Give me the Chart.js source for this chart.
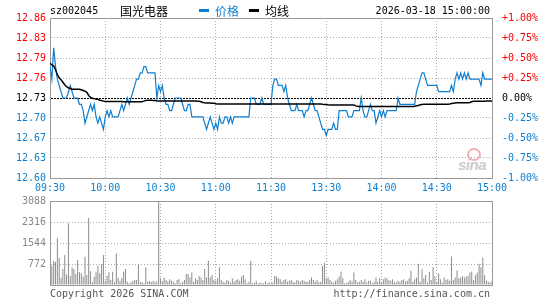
<!DOCTYPE html>
<html>
<head>
<meta charset="utf-8">
<script src="https://cdn.jsdelivr.net/npm/chart.js@4.4.1/dist/chart.umd.min.js"></script>
<style>
  body { margin: 0; background: #fff; }
  #wrap { position: relative; width: 545px; height: 300px; overflow: hidden;
          font-family: "DejaVu Sans Mono", monospace; font-size: 10px; color: #000; }
  canvas { position: absolute; left: 0; }
  #priceChart { top: 0; }
  #volChart { top: 190px; }
  .t { position: absolute; white-space: nowrap; line-height: 12px; }
  .cn { font-family: "Noto Sans CJK SC", sans-serif; font-size: 12px; line-height: 14px; }
  .dash { position: absolute; width: 10px; height: 3px; }
  #mark { position: absolute; left: 455px; top: 146px; width: 40px; height: 28px; }
  #mark .eye { position: absolute; left: 12px; top: 2px; width: 10px; height: 9px;
               border: 2px solid #f2b0b0; border-radius: 50%; }
  #mark .txt { position: absolute; left: 3px; top: 10px; font: italic bold 15px "Liberation Sans", sans-serif;
               color: #cccccc; letter-spacing: -0.5px; }
</style>
</head>
<body>
<div id="wrap">
  <div id="mark"><div class="eye"></div><div class="txt">sina</div></div>
  <canvas id="priceChart" width="545" height="200"></canvas>
  <canvas id="volChart" width="545" height="110"></canvas>

  <div class="t" style="left:50px; top:5px;">sz002045</div>
  <div class="t cn" style="left:120px; top:4px;">国光电器</div>
  <div class="dash" style="left:199px; top:9px; background:#0e7fd0;"></div>
  <div class="t cn" style="left:215px; top:4px; color:#0e7fd0;">价格</div>
  <div class="dash" style="left:249px; top:9px; background:#000;"></div>
  <div class="t cn" style="left:265px; top:4px;">均线</div>
  <div class="t" style="right:55px; top:5px;">2026-03-18 15:00:00</div>

  <div class="t" style="left:50px; top:288px; color:#555;">Copyright 2026 SINA.COM</div>
  <div class="t" style="right:55px; top:288px; color:#555;">http://finance.sina.com.cn</div>
</div>
<script>
// previous close and tick labels
const prevClose = 12.73;
const timeTickMinutes = [0, 30, 60, 90, 120, 150, 180, 210, 240];
const timeLabels = ['09:30', '10:00', '10:30', '11:00', '11:30', '13:30', '14:00', '14:30', '15:00'];
const priceTickLabels = ['12.60', '12.63', '12.67', '12.70', '12.73', '12.76', '12.79', '12.83', '12.86'];
const pctTickLabels = ['-1.00%', '-0.75%', '-0.50%', '-0.25%', '0.00%', '+0.25%', '+0.50%', '+0.75%', '+1.00%'];
const volTicks = [0, 772, 1544, 2316, 3088];
const volTickLabels = ['', '772', '1544', '2316', '3088'];

// one value per minute, 09:30-11:30 then 13:01-15:00
const prices = [
  12.78,12.76,12.81,12.78,12.76,12.75,12.74,12.73,12.73,12.73,
  12.74,12.75,12.74,12.73,12.73,12.73,12.72,12.72,12.71,12.69,
  12.70,12.71,12.72,12.71,12.72,12.70,12.69,12.70,12.69,12.68,
  12.70,12.71,12.70,12.71,12.70,12.70,12.70,12.70,12.71,12.72,
  12.71,12.72,12.73,12.72,12.73,12.74,12.75,12.76,12.76,12.77,
  12.77,12.78,12.78,12.77,12.77,12.77,12.77,12.77,12.73,12.75,
  12.74,12.75,12.73,12.72,12.72,12.71,12.71,12.72,12.73,12.73,
  12.73,12.73,12.72,12.71,12.71,12.72,12.72,12.70,12.70,12.70,
  12.70,12.70,12.70,12.70,12.69,12.68,12.69,12.70,12.69,12.68,
  12.69,12.68,12.70,12.69,12.69,12.70,12.70,12.69,12.70,12.69,
  12.70,12.70,12.70,12.70,12.70,12.70,12.70,12.70,12.70,12.73,
  12.73,12.73,12.72,12.72,12.72,12.73,12.72,12.72,12.72,12.72,
  12.72,12.75,12.76,12.76,12.75,12.75,12.75,12.74,12.75,12.73,
  12.72,12.71,12.71,12.71,12.72,12.71,12.71,12.71,12.70,12.71,
  12.71,12.72,12.73,12.72,12.71,12.71,12.70,12.69,12.68,12.68,
  12.67,12.68,12.68,12.68,12.69,12.68,12.68,12.71,12.71,12.71,
  12.71,12.71,12.70,12.70,12.70,12.71,12.71,12.71,12.71,12.73,
  12.71,12.70,12.70,12.71,12.72,12.71,12.71,12.69,12.70,12.71,
  12.70,12.71,12.70,12.71,12.71,12.71,12.71,12.71,12.71,12.73,
  12.72,12.72,12.72,12.72,12.72,12.72,12.72,12.72,12.72,12.74,
  12.75,12.76,12.77,12.77,12.76,12.75,12.75,12.75,12.75,12.75,
  12.75,12.74,12.74,12.74,12.74,12.74,12.74,12.74,12.75,12.74,
  12.76,12.77,12.76,12.77,12.76,12.77,12.76,12.77,12.76,12.76,
  12.76,12.76,12.76,12.76,12.75,12.77,12.76,12.76,12.76,12.76,
  12.76
];

const avgPrices = [
  12.7852,12.7825,12.7809,12.7750,12.7670,12.7620,12.7590,12.7550,12.7510,12.7480,
  12.7460,12.7450,12.7440,12.7440,12.7440,12.7440,12.7440,12.7430,12.7420,12.7410,
  12.7390,12.7340,12.7310,12.7295,12.7290,12.7280,12.7280,12.7265,12.7260,12.7250,
  12.7245,12.7245,12.7245,12.7245,12.7245,12.7245,12.7245,12.7245,12.7245,12.7245,
  12.7242,12.7242,12.7242,12.7242,12.7242,12.7242,12.7242,12.7242,12.7242,12.7242,
  12.7242,12.7250,12.7262,12.7265,12.7265,12.7265,12.7262,12.7260,12.7255,12.7253,
  12.7252,12.7252,12.7252,12.7252,12.7252,12.7252,12.7252,12.7252,12.7252,12.7252,
  12.7252,12.7252,12.7252,12.7252,12.7252,12.7252,12.7252,12.7252,12.7252,12.7252,
  12.7250,12.7248,12.7240,12.7230,12.7225,12.7222,12.7220,12.7220,12.7218,12.7216,
  12.7210,12.7205,12.7205,12.7205,12.7205,12.7205,12.7205,12.7205,12.7205,12.7205,
  12.7205,12.7205,12.7205,12.7205,12.7205,12.7205,12.7205,12.7205,12.7205,12.7205,
  12.7205,12.7205,12.7205,12.7205,12.7205,12.7205,12.7205,12.7205,12.7205,12.7205,
  12.7205,12.7205,12.7205,12.7205,12.7205,12.7205,12.7205,12.7205,12.7205,12.7205,
  12.7205,12.7205,12.7205,12.7205,12.7205,12.7205,12.7205,12.7205,12.7205,12.7205,
  12.7205,12.7205,12.7205,12.7205,12.7205,12.7205,12.7205,12.7205,12.7200,12.7198,
  12.7195,12.7192,12.7190,12.7190,12.7190,12.7190,12.7190,12.7190,12.7190,12.7190,
  12.7190,12.7190,12.7190,12.7190,12.7190,12.7190,12.7175,12.7168,12.7165,12.7165,
  12.7163,12.7163,12.7163,12.7163,12.7163,12.7163,12.7163,12.7163,12.7163,12.7163,
  12.7163,12.7163,12.7163,12.7163,12.7163,12.7163,12.7163,12.7163,12.7163,12.7163,
  12.7163,12.7163,12.7163,12.7163,12.7163,12.7163,12.7163,12.7163,12.7170,12.7175,
  12.7180,12.7192,12.7198,12.7200,12.7200,12.7200,12.7200,12.7200,12.7200,12.7200,
  12.7200,12.7200,12.7200,12.7200,12.7200,12.7200,12.7200,12.7205,12.7212,12.7218,
  12.7222,12.7224,12.7225,12.7225,12.7225,12.7225,12.7225,12.7225,12.7230,12.7240,
  12.7250,12.7250,12.7250,12.7250,12.7250,12.7250,12.7250,12.7251,12.7252,12.7252,
  12.7252
];

const volumes = [
  150,710,880,850,1715,1000,270,590,1100,390,
  2270,330,640,590,400,920,470,430,300,1040,
  370,2470,510,100,300,470,710,430,760,1100,
  150,340,470,180,490,100,1160,270,150,270,
  490,590,120,60,100,150,180,180,760,120,
  100,60,640,120,150,110,150,100,130,3250,
  250,150,280,185,120,210,160,120,60,185,
  210,60,120,185,400,400,280,460,120,250,
  185,330,280,185,590,280,890,280,370,185,
  160,250,650,185,120,90,185,160,90,250,
  120,185,210,160,310,370,210,60,120,890,
  60,90,160,60,90,60,60,135,60,90,
  60,90,330,310,250,210,120,185,210,120,
  160,185,120,90,185,160,120,185,150,110,
  120,185,280,185,120,185,100,120,700,820,
  250,280,185,120,90,160,210,310,490,250,
  60,60,110,185,120,460,185,90,120,185,
  120,210,90,160,160,60,120,280,120,250,
  90,210,280,250,185,160,210,120,90,160,
  120,185,210,120,160,250,520,120,210,280,
  780,120,580,250,370,90,490,185,650,310,
  120,430,210,90,280,185,210,160,1050,185,
  280,530,250,280,330,280,310,330,460,500,
  185,370,460,780,650,1010,370,160,120,90,
  150
];

const RED = '#f00';
const BLUE = '#0e7fd0';
const GRID = '#aaa';
const FRAME = '#999';
const monoFont = { family: 'DejaVu Sans Mono', size: 10 };

// ticks at +-1% around previous close, in quarter steps
const priceTicks = priceTickLabels.map((_, i) => prevClose * (1 + (i - 4) * 0.0025));

function fixedTicks(values) {
  return scale => { scale.ticks = values.map(v => ({ value: v })); };
}
const labelColor = ctx => ctx.index > 4 ? RED : (ctx.index === 4 ? '#000' : BLUE);
const isEdge = (ctx, last) => ctx.index === 0 || ctx.index === last;

new Chart(document.getElementById('priceChart'), {
  type: 'line',
  data: {
    datasets: [{
      label: '均线',
      data: avgPrices.map((v, i) => ({ x: i, y: v })),
      borderColor: '#000',
      borderWidth: 1.5,
      pointRadius: 0,
      tension: 0
    }, {
      label: '价格',
      data: prices.map((v, i) => ({ x: i, y: v })),
      borderColor: BLUE,
      borderWidth: 1.2,
      pointRadius: 0,
      tension: 0
    }]
  },
  options: {
    responsive: false,
    animation: false,
    devicePixelRatio: 1,
    events: [],
    layout: { padding: { top: 18, left: 0, right: 0, bottom: 0 } },
    plugins: { legend: { display: false }, tooltip: { enabled: false } },
    scales: {
      x: {
        type: 'linear', min: 0, max: 240,
        afterBuildTicks: fixedTicks(timeTickMinutes),
        afterFit: s => { s.height = 22; },
        grid: { drawTicks: false, color: ctx => isEdge(ctx, 8) ? FRAME : GRID },
        border: { color: FRAME, dash: ctx => isEdge(ctx, 8) ? [] : [1, 2] },
        ticks: { autoSkip: false, maxRotation: 0, padding: 4, color: BLUE, font: monoFont,
                 callback: (v, i) => timeLabels[i] }
      },
      y: {
        position: 'left', min: priceTicks[0], max: priceTicks[8],
        afterBuildTicks: fixedTicks(priceTicks),
        afterFit: s => { s.width = 50; },
        grid: { drawTicks: false, color: ctx => ctx.index === 4 ? '#000' : (isEdge(ctx, 8) ? FRAME : GRID) },
        border: { color: FRAME, dash: ctx => ctx.index === 4 ? [2, 1] : (isEdge(ctx, 8) ? [] : [1, 2]) },
        ticks: { autoSkip: false, padding: 4, color: labelColor, font: monoFont,
                 callback: (v, i) => priceTickLabels[i] }
      },
      yr: {
        position: 'right', min: priceTicks[0], max: priceTicks[8],
        afterBuildTicks: fixedTicks(priceTicks),
        afterFit: s => { s.width = 53; },
        grid: { display: false },
        border: { color: FRAME },
        ticks: { autoSkip: false, padding: 2, color: labelColor, font: monoFont,
                 callback: (v, i) => pctTickLabels[i] }
      }
    }
  }
});

new Chart(document.getElementById('volChart'), {
  type: 'bar',
  data: {
    datasets: [{
      label: 'volume',
      data: volumes.map((v, i) => ({ x: i, y: v })),
      backgroundColor: '#8c8c8c',
      borderWidth: 0,
      inflateAmount: 0,
      barThickness: 1
    }]
  },
  options: {
    responsive: false,
    animation: false,
    devicePixelRatio: 1,
    events: [],
    layout: { padding: { top: 11, left: 0, right: 0, bottom: 0 } },
    plugins: { legend: { display: false }, tooltip: { enabled: false } },
    scales: {
      x: {
        type: 'linear', min: 0, max: 240, offset: false,
        afterBuildTicks: fixedTicks(timeTickMinutes),
        afterFit: s => { s.height = 15; },
        grid: { offset: false, drawTicks: false, color: ctx => isEdge(ctx, 8) ? FRAME : GRID },
        border: { color: FRAME, dash: ctx => isEdge(ctx, 8) ? [] : [1, 2] },
        ticks: { display: false }
      },
      y: {
        position: 'left', min: 0, max: volTicks[4],
        afterBuildTicks: fixedTicks(volTicks),
        afterFit: s => { s.width = 50; },
        grid: { drawTicks: false, color: ctx => isEdge(ctx, 4) ? FRAME : GRID },
        border: { color: FRAME, dash: ctx => isEdge(ctx, 4) ? [] : [1, 2] },
        ticks: { autoSkip: false, padding: 4, color: '#888', font: monoFont,
                 callback: (v, i) => volTickLabels[i] }
      },
      yr: {
        position: 'right',
        afterFit: s => { s.width = 53; },
        grid: { display: false },
        border: { color: FRAME },
        ticks: { display: false }
      }
    }
  }
});
</script>
</body>
</html>
